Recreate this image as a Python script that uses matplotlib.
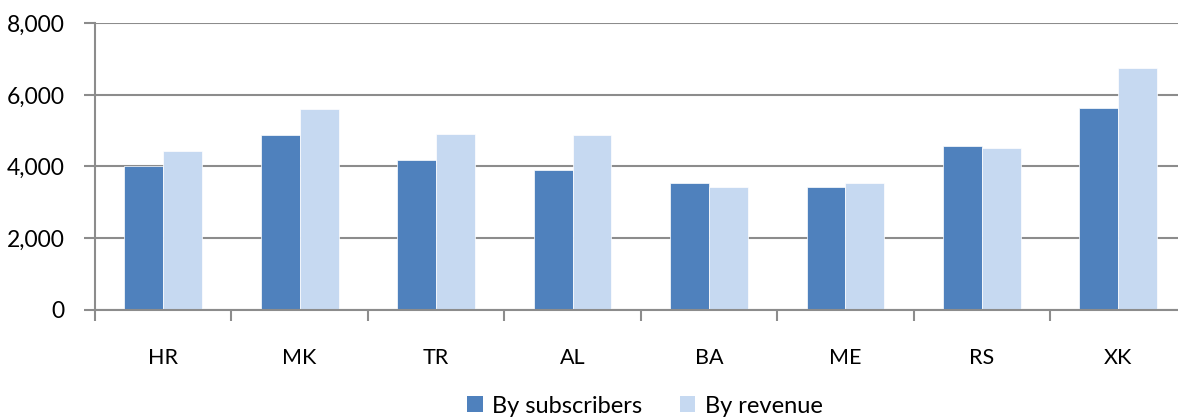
import matplotlib
matplotlib.use("Agg")
import matplotlib.pyplot as plt
from matplotlib.patches import Patch
from matplotlib.ticker import FuncFormatter, FixedLocator
import numpy as np

categories = ["HR", "MK", "TR", "AL", "BA", "ME", "RS", "XK"]
by_subscribers = [4020, 4870, 4180, 3900, 3540, 3420, 4570, 5640]
by_revenue = [4430, 5610, 4910, 4890, 3430, 3540, 4510, 6750]
series_names = ["By subscribers", "By revenue"]
colors = ["#4F81BD", "#C6D9F1"]

plt.rcParams['font.family'] = ['Lato', 'DejaVu Sans']

W, H = 1178, 419
fig = plt.figure(figsize=(W / 100, H / 100), dpi=100)
left_px, right_px, top_px, bottom_px = 95, 1186.5, 23.3, 309.5
ax = fig.add_axes([left_px / W, 1 - bottom_px / H, (right_px - left_px) / W, (bottom_px - top_px) / H])

x = np.arange(len(categories))
bw = 0.285
ax.bar(x - bw / 2, by_subscribers, width=bw, color=colors[0], edgecolor="#FFFFFF", linewidth=0.5, zorder=3)
ax.bar(x + bw / 2, by_revenue, width=bw, color=colors[1], edgecolor="#FFFFFF", linewidth=0.5, zorder=3)

ax.set_xlim(-0.5, len(categories) - 0.5)
ax.set_ylim(0, 8000)
ax.set_yticks([0, 2000, 4000, 6000, 8000])
ax.yaxis.set_major_formatter(FuncFormatter(lambda v, p: f"{int(v):,}"))
ax.grid(axis="y", color="#8C8C8C", linewidth=1.5, zorder=1)

ax.set_xticks(x)
ax.set_xticklabels(categories)
ax.xaxis.set_minor_locator(FixedLocator(np.arange(-0.5, len(categories), 1.0)))
ax.tick_params(axis="x", which="major", length=0, pad=28, labelsize=15.5, colors="#000000")
ax.tick_params(axis="x", which="minor", length=8, width=1.5, color="#8C8C8C", direction="out")
ax.tick_params(axis="y", length=8, width=1.5, color="#8C8C8C", direction="out", pad=14, labelsize=16.5)

for s in ["top", "right"]:
    ax.spines[s].set_visible(False)
for s in ["left", "bottom"]:
    ax.spines[s].set_color("#8C8C8C")
    ax.spines[s].set_linewidth(1.5)
    ax.spines[s].set_zorder(4)

handles = [Patch(facecolor=c, edgecolor="none") for c in colors]
fig.legend(handles, series_names, loc="center", bbox_to_anchor=(645 / W, 1 - 406 / H),
           ncol=2, frameon=False, fontsize=17, handlelength=0.65, handleheight=0.65,
           handletextpad=0.4, columnspacing=1.6, borderaxespad=0)

fig.savefig("out.png", dpi=100)
